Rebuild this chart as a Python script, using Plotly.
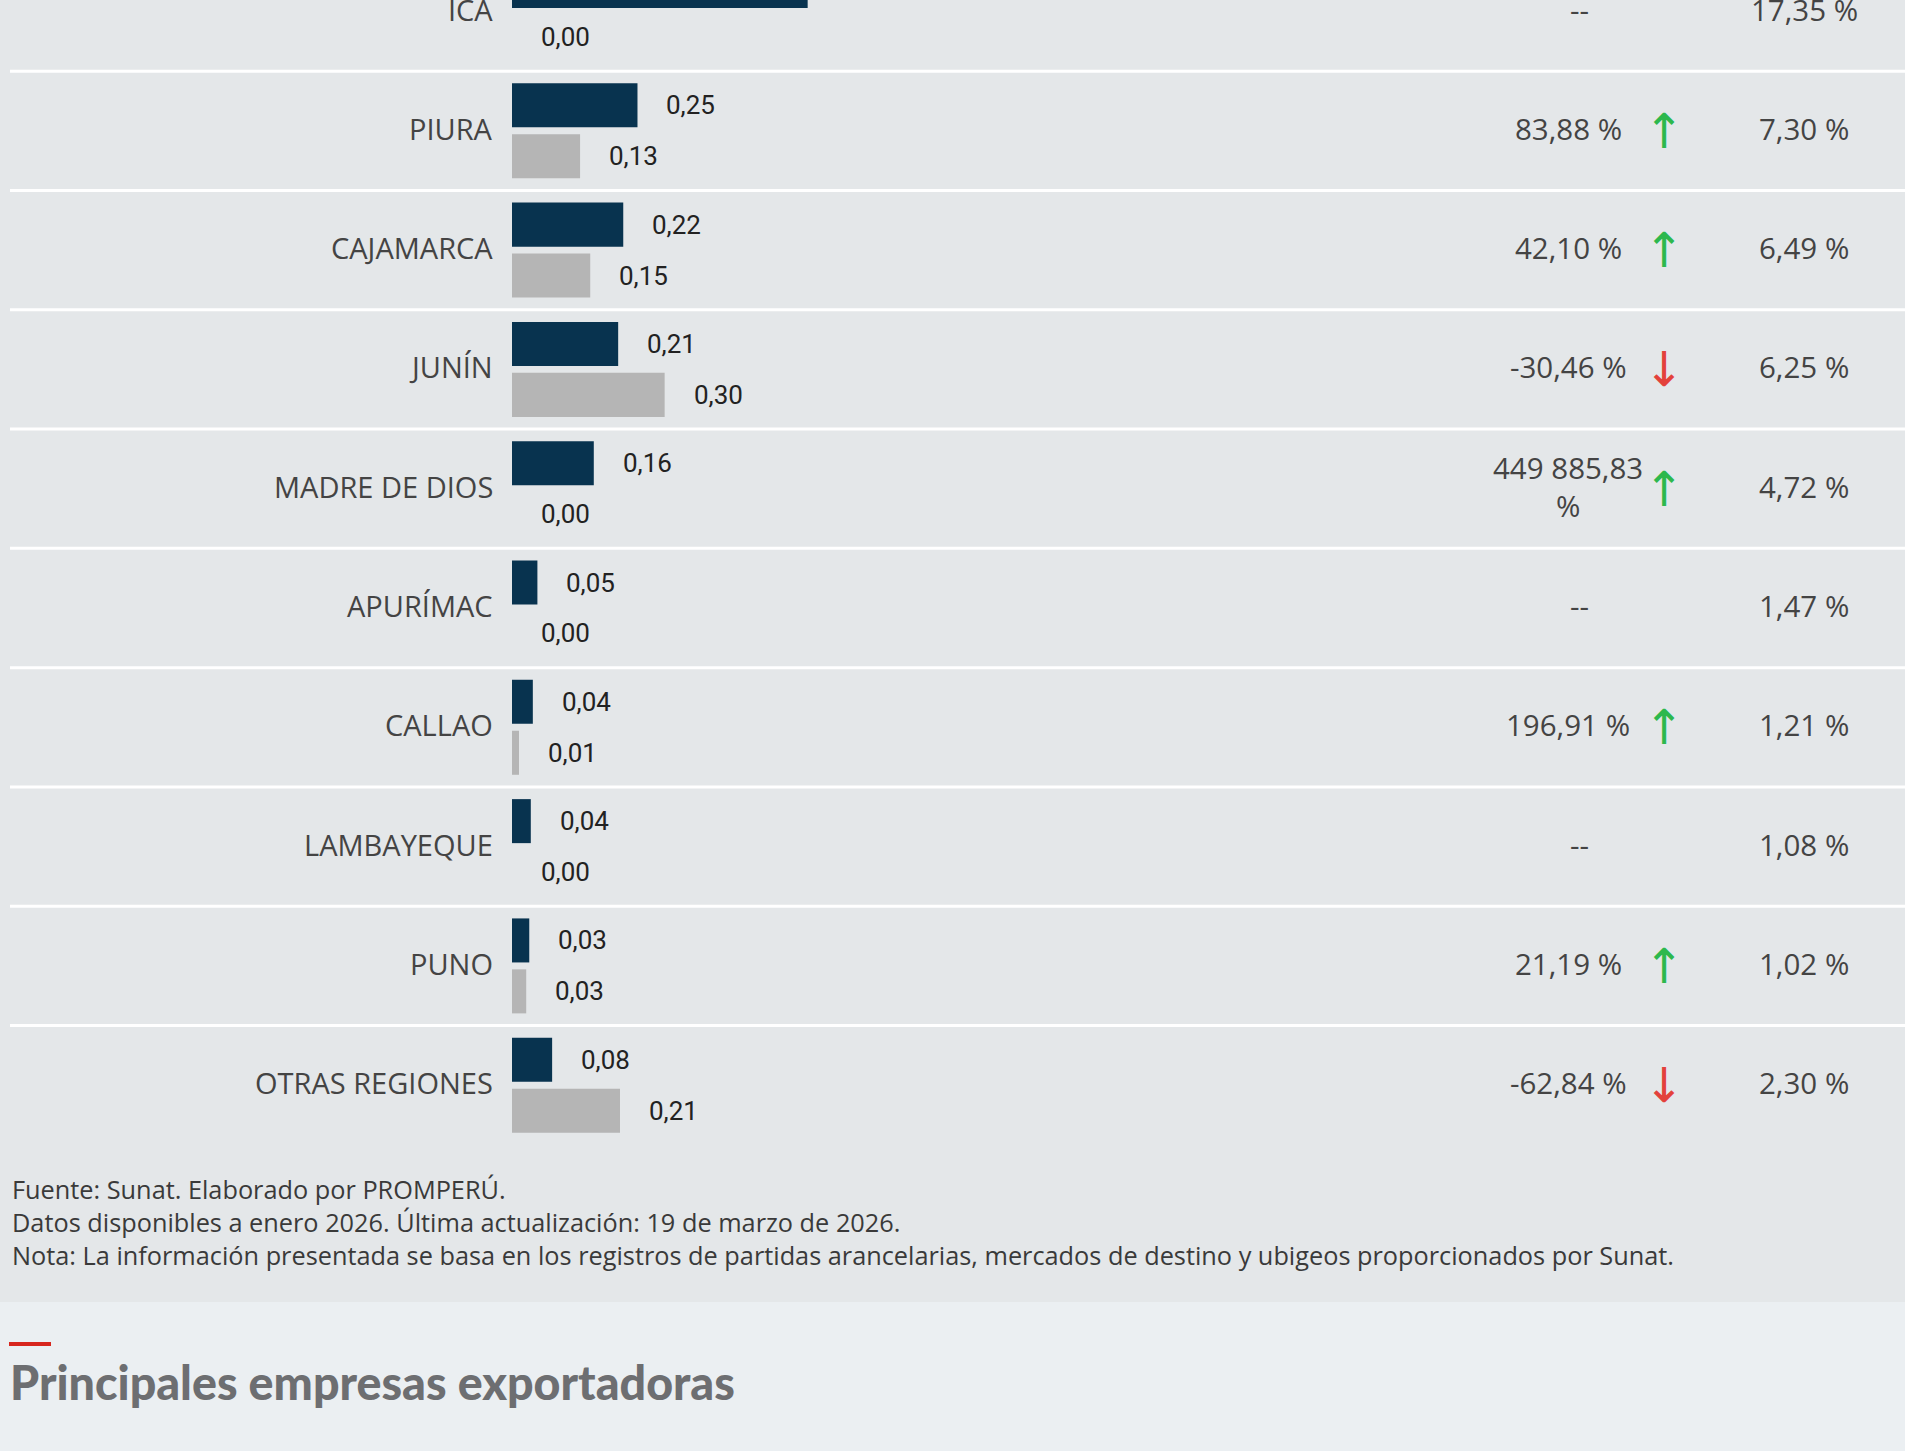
import plotly.graph_objects as go

# ---------------- data ----------------
regions = ["ICA", "PIURA", "CAJAMARCA", "JUNÍN", "MADRE DE DIOS", "APURÍMAC",
           "CALLAO", "LAMBAYEQUE", "PUNO", "OTRAS REGIONES"]
value_2026 = [0.582, 0.247, 0.219, 0.209, 0.161, 0.050, 0.041, 0.037, 0.034, 0.079]
value_2025 = [0.00, 0.134, 0.154, 0.3005, 0.00, 0.00, 0.0138, 0.00, 0.028, 0.2126]
variation_pct = [None, 83.88, 42.10, -30.46, 449885.83, None, 196.91, None, 21.19, -62.84]
share_pct = [17.35, 7.30, 6.49, 6.25, 4.72, 1.47, 1.21, 1.08, 1.02, 2.30]

footer_lines = [
    "Fuente: Sunat. Elaborado por PROMPERÚ.",
    "Datos disponibles a enero 2026. Última actualización: 19 de marzo de 2026.",
    "Nota: La información presentada se basa en los registros de partidas arancelarias, mercados de destino y ubigeos proporcionados por Sunat.",
]
section_title = "Principales empresas exportadoras"

# ---------------- layout constants ----------------
W, H = 1905, 1451
ROW0_PX, ROW_PX = 11.5, 119.3
X0_PX, UNIT_PX = 512, 508
BAR_OFF, BAR_W = 0.2135, 0.369

C_DARK, C_GRAY = "#08334F", "#B5B5B5"
C_BG, C_BG2 = "#E4E7E9", "#EBEFF2"
C_TEXT = "#444444"
TXT_SHIFT = 2.5


def px_y(p):
    return 1 - p / H


def fmt2(v):
    return f"{v:,.2f}".replace(",", " ").replace(".", ",")


rows = list(range(len(regions)))
fig = go.Figure()
fig.add_bar(y=[r - BAR_OFF for r in rows], x=value_2026, orientation="h",
            width=BAR_W, marker=dict(color=C_DARK, line=dict(width=0)),
            hoverinfo="skip")
fig.add_bar(y=[r + BAR_OFF for r in rows], x=value_2025, orientation="h",
            width=BAR_W, marker=dict(color=C_GRAY, line=dict(width=0)),
            hoverinfo="skip")

ann = []
shapes = []

# background of lower section
shapes.append(dict(type="rect", xref="paper", yref="paper", x0=0, x1=1,
                   y0=0, y1=px_y(1302), fillcolor=C_BG2, line=dict(width=0),
                   layer="below"))
# row separators
for r in rows[:-1]:
    shapes.append(dict(type="line", xref="paper", yref="y", x0=10 / W, x1=1,
                       y0=r + 0.5, y1=r + 0.5, line=dict(color="white", width=3),
                       layer="below"))
# red accent
shapes.append(dict(type="rect", xref="paper", yref="paper", x0=9 / W, x1=51 / W,
                   y0=px_y(1346), y1=px_y(1342), fillcolor="#D7261E",
                   line=dict(width=0)))

for r, name in enumerate(regions):
    # category label
    ann.append(dict(x=0, y=r, xref="x", yref="y", text=name, showarrow=False,
                    xanchor="right", yanchor="middle", xshift=-17,
                    yshift=TXT_SHIFT,
                    font=dict(family="Open Sans", size=29, color=C_TEXT)))
    # value labels
    for val, off in ((value_2026[r], -BAR_OFF), (value_2025[r], BAR_OFF)):
        ann.append(dict(x=val, y=r + off, xref="x", yref="y", text=fmt2(val),
                        showarrow=False, xanchor="left", yanchor="middle",
                        xshift=27, font=dict(family="Roboto", size=26,
                                             color="#222222")))
    # variation column
    v = variation_pct[r]
    if v is None:
        ann.append(dict(x=1568 / W, y=r, xref="paper", yref="y", text="--",
                        showarrow=False, xanchor="center", yanchor="middle",
                        xshift=11, yshift=TXT_SHIFT,
                        font=dict(family="Open Sans", size=29.5, color=C_TEXT)))
    else:
        num = fmt2(v)
        long = len(num) > 8
        txt = num + ("<br>%" if long else " %")
        ann.append(dict(x=1568 / W, y=r, xref="paper", yref="y", text=txt,
                        showarrow=False, xanchor="center", yanchor="middle",
                        yshift=TXT_SHIFT,
                        font=dict(family="Open Sans", size=29.5, color=C_TEXT)))
        up = v >= 0
        ann.append(dict(x=1664 / W, y=r, xref="paper", yref="y",
                        text="↑" if up else "↓", showarrow=False,
                        xanchor="center", yanchor="middle",
                        font=dict(family="DejaVu Sans", size=48,
                                  color="#2DB84D" if up else "#E3413B")))
    # share column
    ann.append(dict(x=1804 / W, y=r, xref="paper", yref="y",
                    text=fmt2(share_pct[r]) + " %", showarrow=False,
                    xanchor="center", yanchor="middle", yshift=TXT_SHIFT,
                    font=dict(family="Open Sans", size=29.5, color=C_TEXT)))

# footer (one block of lines)
ann.append(dict(x=10 / W, y=px_y(1221.5), xref="paper", yref="paper",
                text="<br>".join(footer_lines), showarrow=False,
                xanchor="left", yanchor="middle", align="left",
                font=dict(family="Open Sans", size=25.3, color="#3A3A3A")))

# section title
ann.append(dict(x=8 / W, y=px_y(1382), xref="paper", yref="paper",
                text=section_title, showarrow=False, xanchor="left",
                yanchor="middle",
                font=dict(family="Lato", size=46.6, color="#6D6E71", weight=900)))

fig.update_layout(
    width=W, height=H, margin=dict(l=0, r=0, t=0, b=0, pad=0),
    paper_bgcolor=C_BG, plot_bgcolor="rgba(0,0,0,0)",
    barmode="overlay", showlegend=False,
    xaxis=dict(range=[-X0_PX / UNIT_PX, (W - X0_PX) / UNIT_PX], visible=False,
               fixedrange=True),
    yaxis=dict(range=[(H - ROW0_PX) / ROW_PX, -ROW0_PX / ROW_PX], visible=False,
               fixedrange=True),
    annotations=ann, shapes=shapes,
)

fig.write_html("out.html", config={"displayModeBar": False},
               post_script="document.body.style.margin='0';document.body.style.overflow='hidden';")
